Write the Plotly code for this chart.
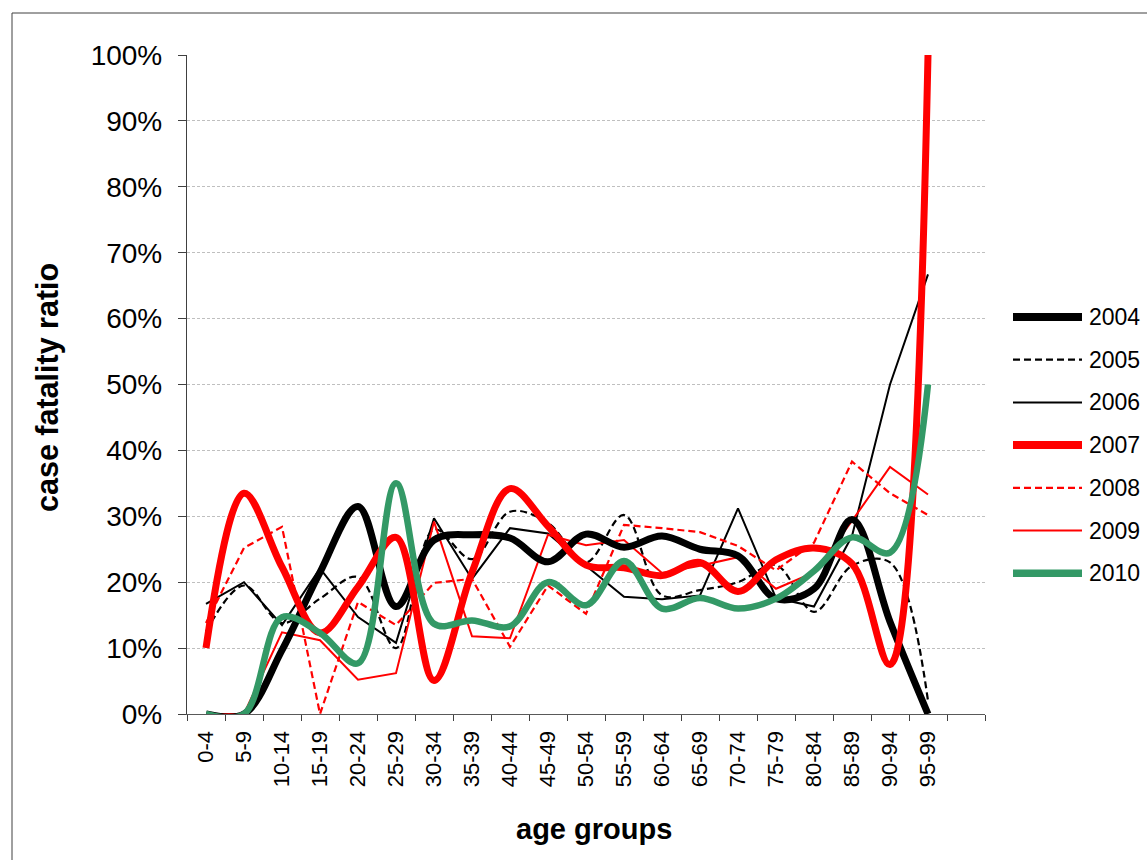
import plotly.graph_objects as go

age_groups = ["0-4", "5-9", "10-14", "15-19", "20-24", "25-29", "30-34", "35-39",
              "40-44", "45-49", "50-54", "55-59", "60-64", "65-69", "70-74",
              "75-79", "80-84", "85-89", "90-94", "95-99"]

cfr_2004 = [0.0, 0.0, 0.097, 0.215, 0.315, 0.163, 0.264, 0.272, 0.267, 0.231,
            0.273, 0.253, 0.27, 0.25, 0.24, 0.175, 0.19, 0.295, 0.14, 0.0]
cfr_2005 = [0.125, 0.195, 0.138, 0.175, 0.208, 0.10, 0.28, 0.235, 0.307, 0.29,
            0.23, 0.302, 0.18, 0.188, 0.20, 0.226, 0.155, 0.225, 0.23, 0.02]
cfr_2006 = [0.167, 0.20, 0.135, 0.221, 0.147, 0.108, 0.297, 0.205, 0.282, 0.274,
            0.225, 0.178, 0.174, 0.18, 0.312, 0.176, 0.163, 0.27, 0.50, 0.667]
cfr_2007 = [0.10, 0.335, 0.223, 0.123, 0.193, 0.268, 0.051, 0.215, 0.342, 0.285,
            0.226, 0.222, 0.21, 0.23, 0.186, 0.234, 0.252, 0.228, 0.075, 1.0]
cfr_2008 = [0.138, 0.252, 0.284, 0.0, 0.17, 0.135, 0.199, 0.205, 0.102, 0.195,
            0.152, 0.287, 0.282, 0.276, 0.255, 0.218, 0.26, 0.383, 0.335, 0.302]
cfr_2009 = [0.0, 0.0, 0.124, 0.112, 0.052, 0.062, 0.292, 0.118, 0.115, 0.272,
            0.256, 0.264, 0.214, 0.225, 0.238, 0.19, 0.215, 0.293, 0.375, 0.333]
cfr_2010 = [0.0, 0.0, 0.147, 0.123, 0.077, 0.35, 0.137, 0.142, 0.133, 0.20,
            0.165, 0.232, 0.16, 0.176, 0.16, 0.175, 0.217, 0.268, 0.245, 0.50]

years = ["2004", "2005", "2006", "2007", "2008", "2009", "2010"]
series = [cfr_2004, cfr_2005, cfr_2006, cfr_2007, cfr_2008, cfr_2009, cfr_2010]

styles = {
    "2004": dict(color="#000000", width=7, dash="solid", shape="spline"),
    "2005": dict(color="#000000", width=2.2, dash="7px,4px", shape="spline"),
    "2006": dict(color="#000000", width=2, dash="solid", shape="linear"),
    "2007": dict(color="#FF0000", width=7, dash="solid", shape="spline"),
    "2008": dict(color="#FF0000", width=2.2, dash="7px,4px", shape="linear"),
    "2009": dict(color="#FF0000", width=2, dash="solid", shape="linear"),
    "2010": dict(color="#339966", width=6.5, dash="solid", shape="spline"),
}

FONT = "Liberation Sans, Arial, sans-serif"
W, H = 1147, 860
L, R, T, B = 187, 985, 55, 714  # plot area in pixels

def px(xp):
    return (xp - L) / (R - L)

def py(yp):
    return (B - yp) / (B - T)

x_idx = list(range(len(age_groups)))

fig = go.Figure()
order = ["2006", "2005", "2008", "2009", "2004", "2007", "2010"]
for yr in order:
    s = styles[yr]
    vals = series[years.index(yr)]
    fig.add_trace(go.Scatter(
        x=x_idx, y=vals, mode="lines", name=yr, showlegend=False,
        line=dict(color=s["color"], width=s["width"], dash=s["dash"],
                  shape=s["shape"], smoothing=1.0 if s["shape"] == "spline" else None),
        hoverinfo="x+y",
    ))

shapes = []
annotations = []

# custom legend
for i, yr in enumerate(years):
    s = styles[yr]
    yc = 317 + 42.7 * i
    lw = s["width"] + 1 if s["width"] > 5 else s["width"]
    shapes.append(dict(type="line", xref="paper", yref="paper",
                       x0=px(1013), x1=px(1082), y0=py(yc), y1=py(yc),
                       line=dict(color=s["color"], width=lw, dash=s["dash"])))
    annotations.append(dict(xref="paper", yref="paper", x=px(1087), y=py(yc),
                            xanchor="left", yanchor="middle", showarrow=False,
                            text=yr, font=dict(family=FONT, size=23, color="#000000")))

# outer frame
shapes.append(dict(type="rect", xref="paper", yref="paper",
                   x0=px(12), x1=px(1170), y0=py(880), y1=py(13),
                   line=dict(color="#404040", width=1), fillcolor="rgba(0,0,0,0)",
                   layer="below"))

# axis titles
annotations.append(dict(xref="paper", yref="paper", x=px(47), y=py(388),
                        xanchor="center", yanchor="middle", showarrow=False,
                        textangle=-90, text="<b>case fatality ratio</b>",
                        font=dict(family=FONT, size=30.5, color="#000000")))
annotations.append(dict(xref="paper", yref="paper", x=px(594), y=py(829),
                        xanchor="center", yanchor="middle", showarrow=False,
                        text="<b>age groups</b>",
                        font=dict(family=FONT, size=29, color="#000000")))

fig.update_layout(
    width=W, height=H,
    margin=dict(l=L, r=W - R, t=T, b=H - B, pad=0),
    paper_bgcolor="#FFFFFF", plot_bgcolor="#FFFFFF",
    showlegend=False,
    shapes=shapes, annotations=annotations,
    font=dict(family=FONT, color="#000000"),
)

fig.update_xaxes(
    range=[-0.5, 20.5], tickmode="array", tickvals=x_idx, ticktext=age_groups,
    tickangle=-90, tickfont=dict(family=FONT, size=22, color="#000000"),
    ticks="", showgrid=False, zeroline=False,
    showline=True, linecolor="#595959", linewidth=1.3,
    minor=dict(tickmode="array", tickvals=[i - 0.5 for i in range(22)],
               ticks="outside", ticklen=6, tickcolor="#404040", tickwidth=1,
               showgrid=False),
    ticklabelstandoff=7, fixedrange=True,
)

fig.update_yaxes(
    range=[0, 1], tickmode="array", tickvals=[i / 10 for i in range(11)],
    tickformat=".0%", tickfont=dict(family=FONT, size=28, color="#000000"),
    ticks="outside", ticklen=8, tickcolor="#404040", tickwidth=1,
    showgrid=True, gridcolor="#BFBFBF", gridwidth=1, griddash="3px,2px",
    zeroline=False, showline=True, linecolor="#404040", linewidth=1.3,
    ticklabelstandoff=10, fixedrange=True,
)

fig.write_html("out.html", config={"displayModeBar": False},
               post_script="document.body.style.margin='0';")
